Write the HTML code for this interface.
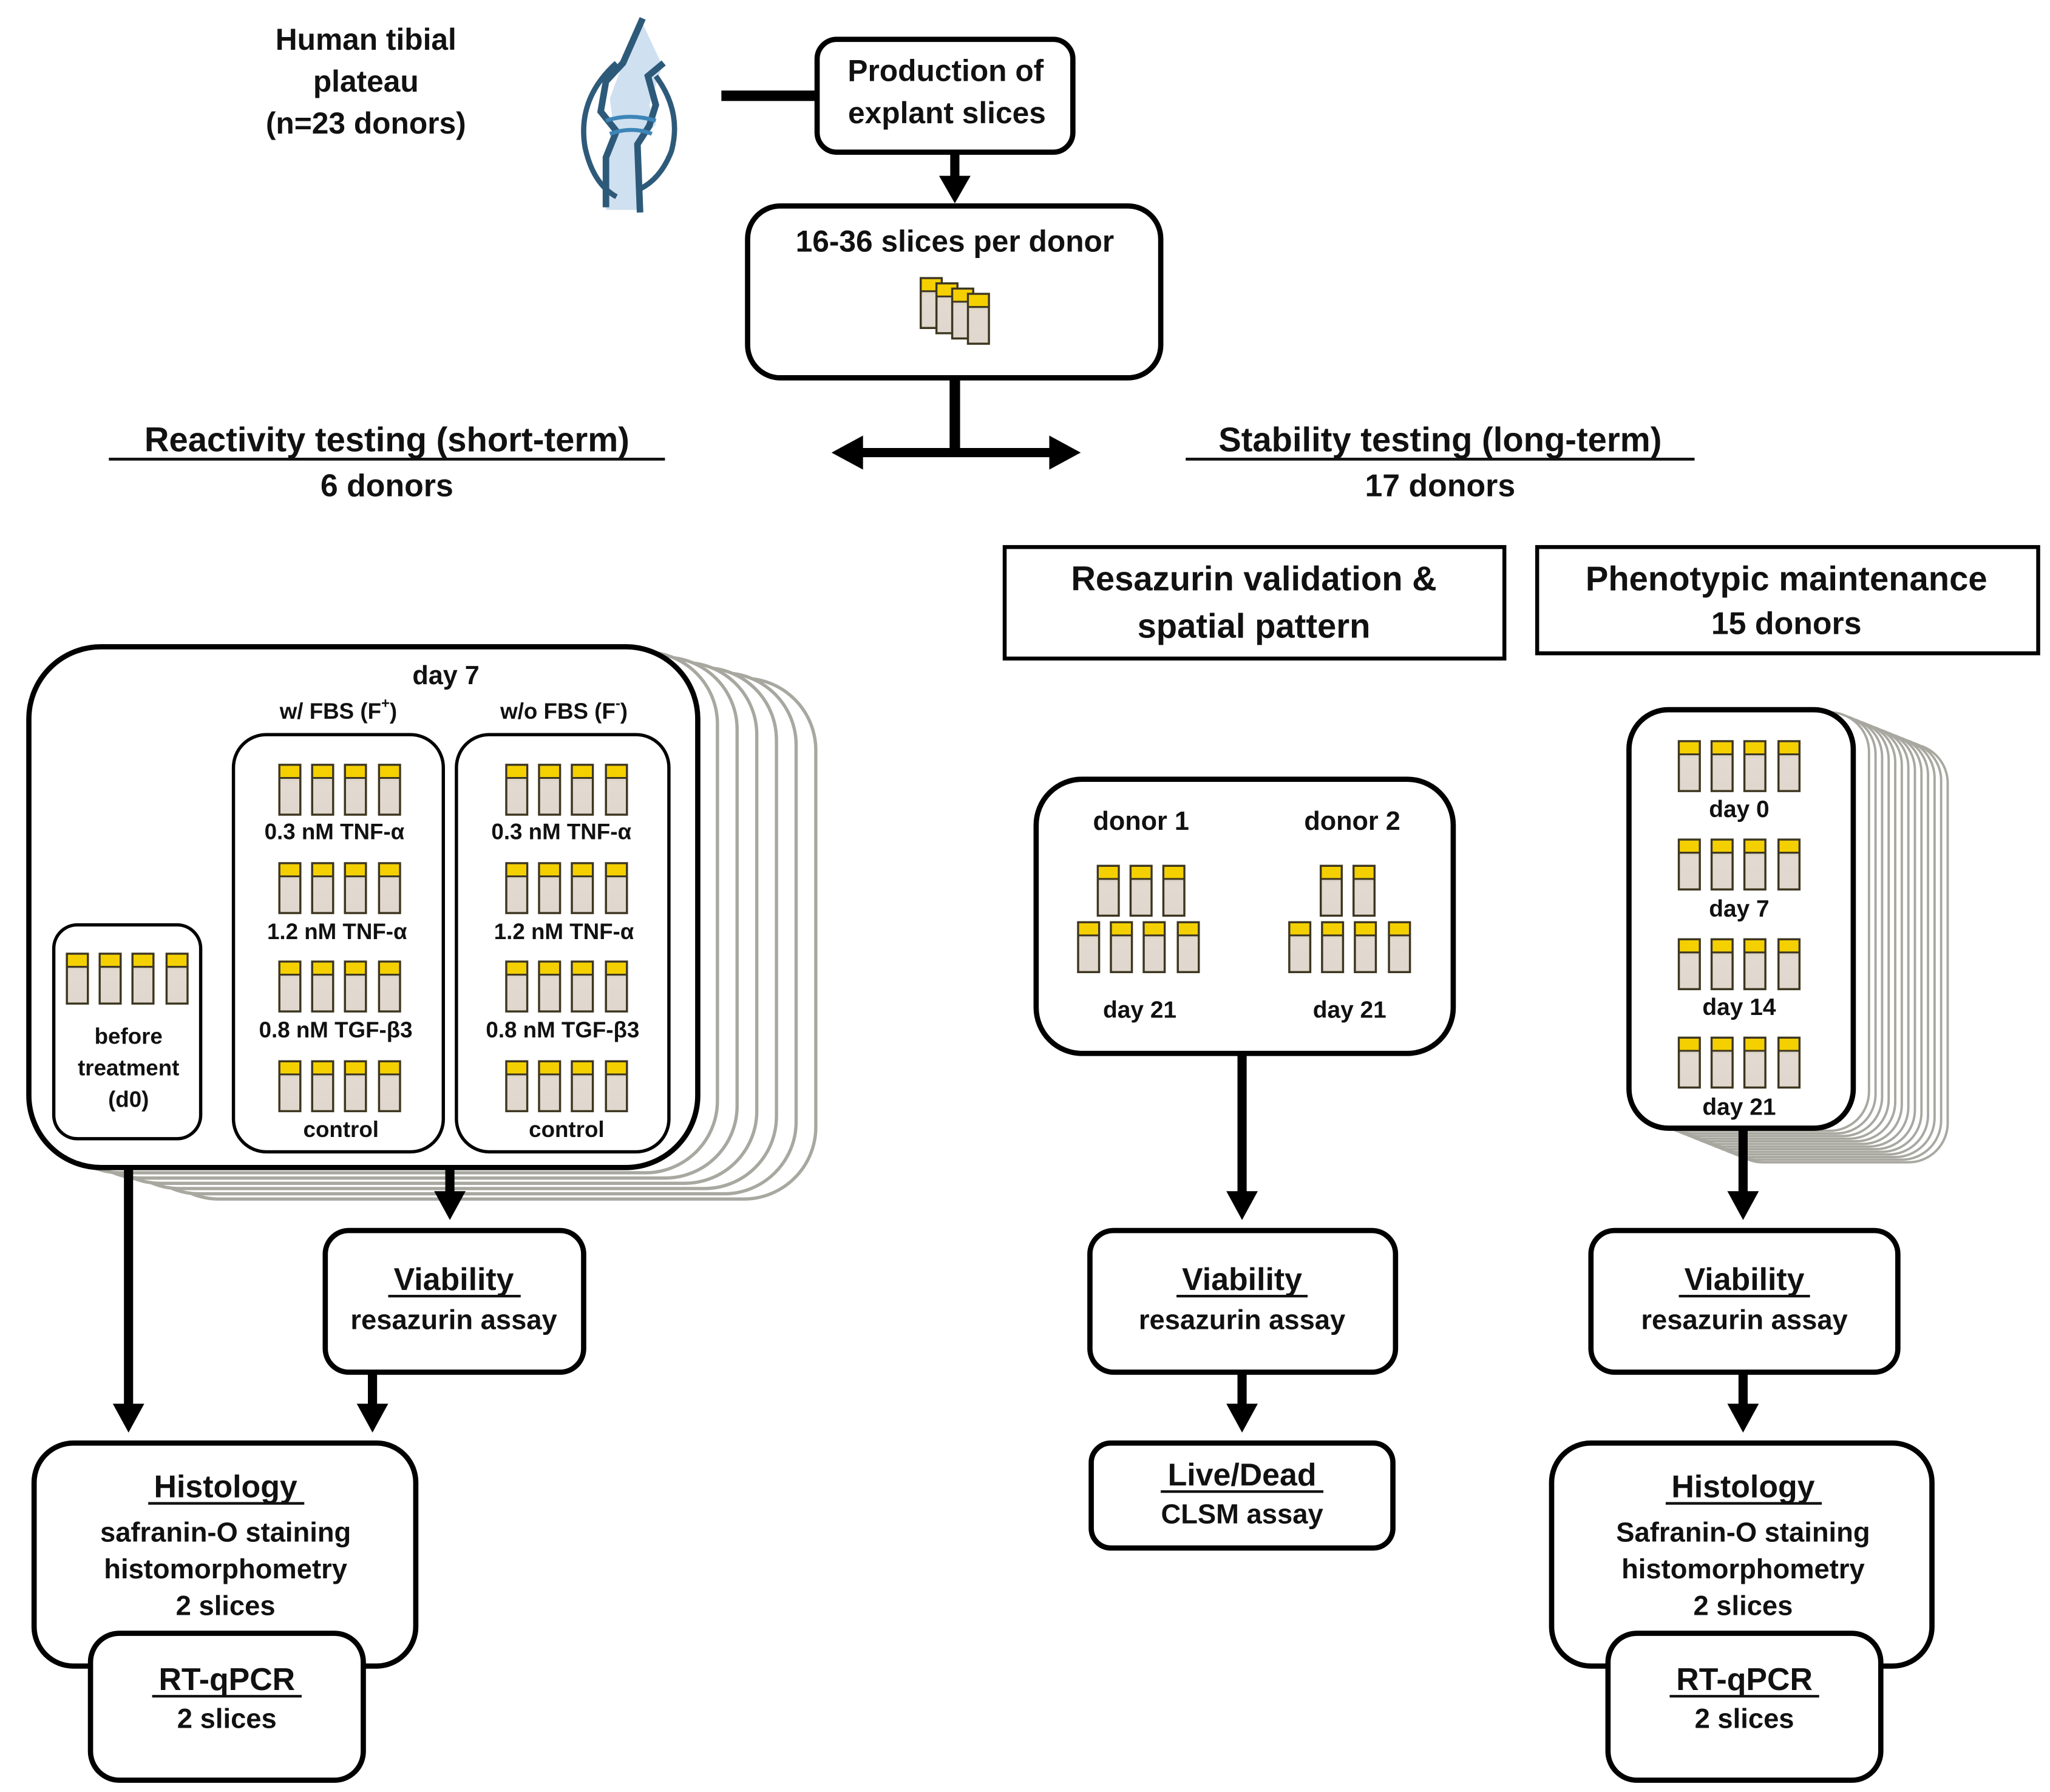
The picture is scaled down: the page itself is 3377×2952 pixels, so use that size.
<!DOCTYPE html>
<html><head><meta charset="utf-8"><style>
html,body{margin:0;padding:0;background:#fff}
svg{display:block}
text{font-family:"Liberation Sans",Arial,Helvetica,sans-serif;font-weight:bold;fill:#111;text-anchor:middle;dominant-baseline:central}
</style></head><body>
<svg width="3377" height="2952" viewBox="0 0 1563 1366" preserveAspectRatio="none" xmlns="http://www.w3.org/2000/svg" font-family="Liberation Sans, Arial, Helvetica, sans-serif">
<defs>
<linearGradient id="bg" x1="0" y1="0" x2="0" y2="1"><stop offset="0" stop-color="#bdb3a3"/><stop offset="0.35" stop-color="#e2dad0"/><stop offset="1" stop-color="#e0d8ce"/></linearGradient>
<g id="t"><rect x="0" y="0" width="16" height="38" fill="url(#bg)" stroke="#3d3620" stroke-width="1.6"/><rect x="0.8" y="0.8" width="14.4" height="9" fill="#f5d000"/><line x1="0" y1="10" x2="16" y2="10" stroke="#3d3620" stroke-width="1.4"/></g>
<g id="row"><use href="#t" x="0"/><use href="#t" x="25"/><use href="#t" x="50"/><use href="#t" x="76"/></g>
</defs>

<text x="279" y="30" font-size="23">Human tibial</text>
<text x="279" y="62" font-size="23">plateau</text>
<text x="279" y="94" font-size="23">(n=23 donors)</text>

<!-- knee icon -->
<g>
<path d="M490 18 L505 50 L495 80 L500 95 L488 108 L488 160 L462 160 L462 120 L468 100 L465 75 L478 40 Z" fill="#cfe0f0"/>
<path d="M490 14 L475 48 L462 62 L458 85 L470 100 L462 120 L462 158" fill="none" stroke="#2e5a7a" stroke-width="5"/>
<path d="M506 48 L494 58 L500 80 L495 96 L486 110 L488 162" fill="none" stroke="#2e5a7a" stroke-width="5"/>
<path d="M462 92 Q480 86 500 92 M465 102 Q482 96 497 102" fill="none" stroke="#3d85b8" stroke-width="3"/>
<path d="M470 48 Q440 75 446 112 Q452 140 470 150 M500 58 Q520 85 512 115 Q504 136 488 144" fill="none" stroke="#2e5a7a" stroke-width="4"/>
</g>
<line x1="550" y1="73" x2="624" y2="73" stroke="#000" stroke-width="8"/>

<rect x="623" y="30" width="195" height="86" rx="15" fill="#fff" stroke="#000" stroke-width="4"/>
<text x="721" y="54" font-size="23">Production of</text>
<text x="722" y="86" font-size="23">explant slices</text>
<line x1="728" y1="116" x2="728" y2="136" stroke="#000" stroke-width="7"/>
<polygon points="716,134 740,134 728,155" fill="#000"/>

<rect x="570" y="157" width="315" height="131" rx="25" fill="#fff" stroke="#000" stroke-width="4"/>
<text x="728" y="184" font-size="23">16-36 slices per donor</text>
<use href="#t" x="702" y="212"/><use href="#t" x="714" y="216"/><use href="#t" x="726" y="220"/><use href="#t" x="738" y="224"/>
<line x1="728" y1="288" x2="728" y2="345" stroke="#000" stroke-width="8"/>
<line x1="655" y1="345" x2="803" y2="345" stroke="#000" stroke-width="7"/>
<polygon points="634,345 658,332 658,358" fill="#000"/>
<polygon points="824,345 800,332 800,358" fill="#000"/>

<text x="295" y="335" font-size="26">Reactivity testing (short-term)</text>
<line x1="83" y1="350" x2="507" y2="350" stroke="#111" stroke-width="2.2"/>
<text x="295" y="370" font-size="24">6 donors</text>
<text x="1098" y="335" font-size="26">Stability testing (long-term)</text>
<line x1="904" y1="350" x2="1292" y2="350" stroke="#111" stroke-width="2.2"/>
<text x="1098" y="370" font-size="24">17 donors</text>

<rect x="766" y="417" width="381" height="85" fill="#fff" stroke="#000" stroke-width="3"/>
<text x="956" y="441" font-size="26">Resazurin validation &amp;</text>
<text x="956" y="477" font-size="26">spatial pattern</text>
<rect x="1172" y="417" width="382" height="81" fill="#fff" stroke="#000" stroke-width="3"/>
<text x="1362" y="441" font-size="26">Phenotypic maintenance</text>
<text x="1362" y="475" font-size="24">15 donors</text>

<g fill="#fff" stroke="#a8a8a0" stroke-width="2.5">
<rect x="112" y="517" width="510" height="397" rx="55"/>
<rect x="97" y="513" width="510" height="397" rx="55"/>
<rect x="82" y="509" width="510" height="397" rx="55"/>
<rect x="67" y="505" width="510" height="397" rx="55"/>
<rect x="52" y="501" width="510" height="397" rx="55"/>
<rect x="37" y="497" width="510" height="397" rx="55"/>
</g>
<rect x="22" y="493" width="510" height="397" rx="55" fill="#fff" stroke="#000" stroke-width="4"/>
<text x="340" y="515" font-size="20">day 7</text>
<text x="258" y="542" font-size="17">w/ FBS (F<tspan font-size="11" dy="-6">+</tspan><tspan dy="6">)</tspan></text>
<text x="430" y="542" font-size="17">w/o FBS (F<tspan font-size="11" dy="-6">-</tspan><tspan dy="6">)</tspan></text>
<rect x="178" y="560" width="160" height="318" rx="25" fill="#fff" stroke="#000" stroke-width="2.5"/>
<rect x="348" y="560" width="162" height="318" rx="25" fill="#fff" stroke="#000" stroke-width="2.5"/>
<rect x="41" y="705" width="112" height="163" rx="18" fill="#fff" stroke="#000" stroke-width="2.5"/>
<use href="#row" x="213" y="583"/><use href="#row" x="213" y="658"/><use href="#row" x="213" y="733"/><use href="#row" x="213" y="809"/>
<use href="#row" x="386" y="583"/><use href="#row" x="386" y="658"/><use href="#row" x="386" y="733"/><use href="#row" x="386" y="809"/>
<use href="#row" x="51" y="727"/>
<g font-size="17">
<text x="255" y="634">0.3 nM TNF-α</text><text x="257" y="710">1.2 nM TNF-α</text><text x="256" y="785">0.8 nM TGF-β3</text><text x="260" y="861">control</text>
<text x="428" y="634">0.3 nM TNF-α</text><text x="430" y="710">1.2 nM TNF-α</text><text x="429" y="785">0.8 nM TGF-β3</text><text x="432" y="861">control</text>
<text x="98" y="790">before</text><text x="98" y="814">treatment</text><text x="98" y="838">(d0)</text>
</g>

<line x1="98" y1="890" x2="98" y2="1072" stroke="#000" stroke-width="7"/>
<polygon points="86,1070 110,1070 98,1092" fill="#000"/>
<line x1="343" y1="890" x2="343" y2="910" stroke="#000" stroke-width="7"/>
<polygon points="331,908 355,908 343,930" fill="#000"/>
<rect x="248" y="938" width="197" height="108" rx="18" fill="#fff" stroke="#000" stroke-width="4"/>
<text x="346" y="975" font-size="24">Viability</text>
<line x1="296" y1="988" x2="397" y2="988" stroke="#111" stroke-width="2"/>
<text x="346" y="1006" font-size="21">resazurin assay</text>
<line x1="284" y1="1046" x2="284" y2="1072" stroke="#000" stroke-width="7"/>
<polygon points="272,1070 296,1070 284,1092" fill="#000"/>

<rect x="26" y="1100" width="291" height="170" rx="30" fill="#fff" stroke="#000" stroke-width="4"/>
<text x="172" y="1133" font-size="24">Histology</text>
<line x1="113" y1="1146" x2="232" y2="1146" stroke="#111" stroke-width="2"/>
<text x="172" y="1168" font-size="21">safranin-O staining</text>
<text x="172" y="1196" font-size="21">histomorphometry</text>
<text x="172" y="1224" font-size="21">2 slices</text>
<rect x="69" y="1245" width="208" height="112" rx="22" fill="#fff" stroke="#000" stroke-width="4"/>
<text x="173" y="1280" font-size="24">RT-qPCR</text>
<line x1="116" y1="1293" x2="230" y2="1293" stroke="#111" stroke-width="2"/>
<text x="173" y="1310" font-size="21">2 slices</text>

<rect x="790" y="594" width="318" height="209" rx="35" fill="#fff" stroke="#000" stroke-width="4"/>
<text x="870" y="626" font-size="20">donor 1</text>
<text x="1031" y="626" font-size="20">donor 2</text>
<use href="#t" x="837" y="660"/><use href="#t" x="862" y="660"/><use href="#t" x="887" y="660"/>
<use href="#row" x="822" y="703"/>
<use href="#t" x="1007" y="660"/><use href="#t" x="1032" y="660"/>
<use href="#row" x="983" y="703"/>
<text x="869" y="770" font-size="18">day 21</text>
<text x="1029" y="770" font-size="18">day 21</text>
<line x1="947" y1="803" x2="947" y2="910" stroke="#000" stroke-width="7"/>
<polygon points="935,908 959,908 947,930" fill="#000"/>
<rect x="831" y="938" width="233" height="108" rx="18" fill="#fff" stroke="#000" stroke-width="4"/>
<text x="947" y="975" font-size="24">Viability</text>
<line x1="897" y1="988" x2="997" y2="988" stroke="#111" stroke-width="2"/>
<text x="947" y="1006" font-size="21">resazurin assay</text>
<line x1="947" y1="1046" x2="947" y2="1072" stroke="#000" stroke-width="7"/>
<polygon points="935,1070 959,1070 947,1092" fill="#000"/>
<rect x="832" y="1100" width="230" height="80" rx="15" fill="#fff" stroke="#000" stroke-width="4"/>
<text x="947" y="1124" font-size="24">Live/Dead</text>
<line x1="885" y1="1137" x2="1009" y2="1137" stroke="#111" stroke-width="2"/>
<text x="947" y="1154" font-size="21">CLSM assay</text>

<g fill="#fff" stroke="#a8a8a0" stroke-width="1.8">
<rect x="1314" y="567" width="171" height="319" rx="30"/>
<rect x="1309" y="565" width="171" height="319" rx="30"/>
<rect x="1304" y="563" width="171" height="319" rx="30"/>
<rect x="1299" y="561" width="171" height="319" rx="30"/>
<rect x="1294" y="559" width="171" height="319" rx="30"/>
<rect x="1289" y="557" width="171" height="319" rx="30"/>
<rect x="1284" y="555" width="171" height="319" rx="30"/>
<rect x="1279" y="553" width="171" height="319" rx="30"/>
<rect x="1274" y="551" width="171" height="319" rx="30"/>
<rect x="1269" y="549" width="171" height="319" rx="30"/>
<rect x="1264" y="547" width="171" height="319" rx="30"/>
<rect x="1259" y="545" width="171" height="319" rx="30"/>
<rect x="1254" y="543" width="171" height="319" rx="30"/>
</g>
<rect x="1242" y="541" width="171" height="319" rx="30" fill="#fff" stroke="#000" stroke-width="4"/>
<use href="#row" x="1280" y="565"/><use href="#row" x="1280" y="640"/><use href="#row" x="1280" y="716"/><use href="#row" x="1280" y="791"/>
<g font-size="18"><text x="1326" y="617">day 0</text><text x="1326" y="693">day 7</text><text x="1326" y="768">day 14</text><text x="1326" y="844">day 21</text></g>
<line x1="1329" y1="860" x2="1329" y2="910" stroke="#000" stroke-width="7"/>
<polygon points="1317,908 1341,908 1329,930" fill="#000"/>
<rect x="1213" y="938" width="234" height="108" rx="18" fill="#fff" stroke="#000" stroke-width="4"/>
<text x="1330" y="975" font-size="24">Viability</text>
<line x1="1280" y1="988" x2="1380" y2="988" stroke="#111" stroke-width="2"/>
<text x="1330" y="1006" font-size="21">resazurin assay</text>
<line x1="1329" y1="1046" x2="1329" y2="1072" stroke="#000" stroke-width="7"/>
<polygon points="1317,1070 1341,1070 1329,1092" fill="#000"/>
<rect x="1183" y="1100" width="290" height="170" rx="30" fill="#fff" stroke="#000" stroke-width="4"/>
<text x="1329" y="1133" font-size="24">Histology</text>
<line x1="1270" y1="1146" x2="1389" y2="1146" stroke="#111" stroke-width="2"/>
<text x="1329" y="1168" font-size="21">Safranin-O staining</text>
<text x="1329" y="1196" font-size="21">histomorphometry</text>
<text x="1329" y="1224" font-size="21">2 slices</text>
<rect x="1226" y="1245" width="208" height="112" rx="22" fill="#fff" stroke="#000" stroke-width="4"/>
<text x="1330" y="1280" font-size="24">RT-qPCR</text>
<line x1="1273" y1="1293" x2="1387" y2="1293" stroke="#111" stroke-width="2"/>
<text x="1330" y="1310" font-size="21">2 slices</text>
</svg>
</body></html>
